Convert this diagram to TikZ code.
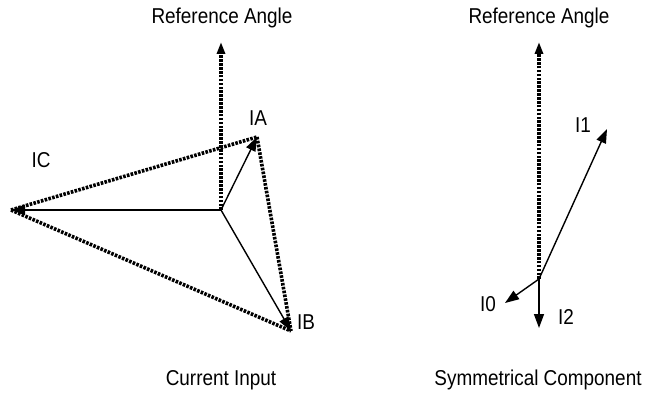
\documentclass[tikz,border=0pt]{standalone}
\usepackage{fontspec}
\setmainfont{Liberation Sans}
\newfontfamily\lblfont[FakeStretch=0.88]{Liberation Sans}
\usetikzlibrary{arrows.meta, positioning}
\definecolor{ink}{HTML}{000000}
\tikzset{
  vec/.style={-{Triangle[length=14pt, width=10pt]}, line width=1.4pt, draw=ink},
  refvec/.style={-{Triangle[length=12pt, width=8pt]}, line width=3.6pt, draw=ink,
    dash pattern=on 2.6pt off 1.3pt},
  dotline/.style={line width=3.6pt, draw=ink, dash pattern=on 2.6pt off 1.3pt},
  lbl/.style={font=\lblfont\fontsize{21.5}{24}\selectfont, text=ink, inner sep=0pt}
}

\begin{document}
\begin{tikzpicture}[x=1pt, y=-1pt]
\useasboundingbox (0,0) rectangle (651,396);

% ---------------- Current input ----------------
\coordinate (o) at (221,210);
\coordinate (refL) at (221,42);
\coordinate (ia) at (257,137);
\coordinate (ib) at (291,331);
\coordinate (ic) at (11,210);

\draw[dotline] (ic) -- (ia);
\draw[dotline] (ia) -- (ib);
\draw[dotline] (ic) -- (ib);
\draw[refvec] (o) -- (refL);
\draw[vec] (o) -- (ia);
\draw[vec] (o) -- (ib);
\draw[vec] (o) -- (ic);

\node[lbl] (refLtxt) at (222,18) {Reference Angle};
\node[lbl] (iatxt) at (258,118) {IA};
\node[lbl] (ictxt) at (41,160) {IC};
\node[lbl] (ibtxt) at (306,322) {IB};
\node[lbl] (cur) at (221,380) {Current Input};

% ---------------- Symmetrical component ----------------
\coordinate (s) at (539,279);
\coordinate (refR) at (539,42);
\coordinate (i1) at (607,129);
\coordinate (i0) at (505,303);
\coordinate (i2) at (539,328);

\draw[refvec] (s) -- (refR);
\draw[vec] (s) -- (i1);
\draw[vec] (s) -- (i0);
\draw[vec] (s) -- (i2);

\node[lbl] (refRtxt) at (539,18) {Reference Angle};
\node[lbl] (i1txt) at (583,125) {I1};
\node[lbl] (i0txt) at (488,304) {I0};
\node[lbl] (i2txt) at (566,317) {I2};
\node[lbl] (sym) at (538,380) {Symmetrical Component};

\end{tikzpicture}
\end{document}
